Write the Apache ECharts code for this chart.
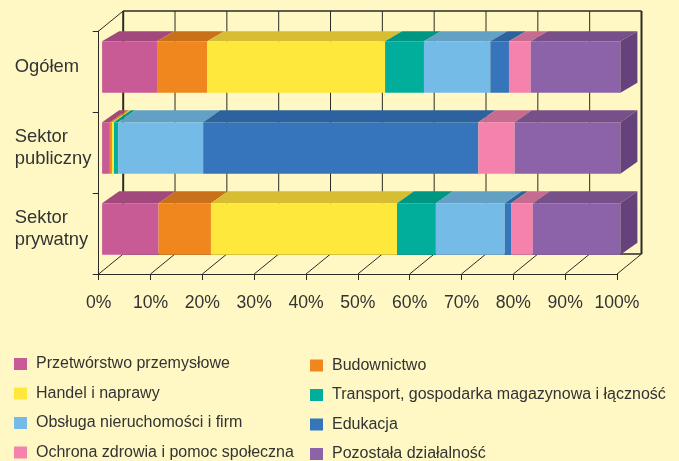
<!DOCTYPE html>
<html>
<head>
<meta charset="utf-8">
<style>
  html, body { margin: 0; padding: 0; background: #fff8c4; }
  #chart { width: 679px; height: 461px; }
</style>
<script src="https://cdn.jsdelivr.net/npm/echarts@6/dist/echarts.min.js"></script>
</head>
<body>
<div id="chart"></div>
<script>
  const categories = ['Ogółem', 'Sektor\npubliczny', 'Sektor\nprywatny'];
  const ticks = [0, 10, 20, 30, 40, 50, 60, 70, 80, 90, 100];

  // udział w %, kolejność: ogółem, publiczny, prywatny
  const przetworstwo = [10.6, 1.5, 10.9];
  const budownictwo = [9.7, 0.4, 10.1];
  const handel = [34.3, 0.4, 35.9];
  const transport = [7.5, 0.8, 7.5];
  const obsluga = [12.8, 16.4, 13.3];
  const edukacja = [3.6, 53.1, 1.2];
  const ochrona = [4.2, 7.0, 4.2];
  const pozostala = [17.3, 20.4, 16.9];

  const sectors = [
    { name: 'Przetwórstwo przemysłowe', values: przetworstwo, front: '#c85a96', top: '#a3487d' },
    { name: 'Budownictwo', values: budownictwo, front: '#f0861e', top: '#c8711a' },
    { name: 'Handel i naprawy', values: handel, front: '#ffe83c', top: '#d6bd32' },
    { name: 'Transport, gospodarka magazynowa i łączność', values: transport, front: '#00ae9b', top: '#009684' },
    { name: 'Obsługa nieruchomości i firm', values: obsluga, front: '#74bbe8', top: '#62a0c4' },
    { name: 'Edukacja', values: edukacja, front: '#3675bc', top: '#2d629e' },
    { name: 'Ochrona zdrowia i pomoc społeczna', values: ochrona, front: '#f482ad', top: '#c76c90' },
    { name: 'Pozostała działalność', values: pozostala, front: '#8c62a8', top: '#785089' }
  ];
  const sideColor = '#65427b';
  const lineColor = '#2b2a25';

  // rzut 3D: przesunięcie tylnej ściany i brył względem przedniej krawędzi osi
  const wall = { dx: 24.5, dy: -20 };
  const bar = { dx: 3.4, dy: -4.5, height: 51.5, depthX: 17, depthY: [10, 12, 12] };

  function renderWall (params, api) {
    const v = api.value(0);
    const band = api.size([0, 1])[1];
    const p = api.coord([v, 0]);
    const yTop = p[1] - band / 2;
    const yBottom = api.coord([v, categories.length - 1])[1] + band / 2;
    const x = p[0];
    const edge = v === ticks[0] || v === ticks[ticks.length - 1];
    const style = { stroke: lineColor, lineWidth: edge ? 2 : 1 };
    const children = [
      { type: 'line', shape: { x1: x + wall.dx, y1: yTop + wall.dy, x2: x + wall.dx, y2: yBottom + wall.dy }, style: style },
      { type: 'line', shape: { x1: x, y1: yBottom, x2: x + wall.dx, y2: yBottom + wall.dy }, style: { stroke: lineColor, lineWidth: 1 } }
    ];
    if (v === ticks[0]) {
      const xEnd = api.coord([ticks[ticks.length - 1], 0])[0];
      children.push(
        { type: 'line', shape: { x1: x, y1: yTop, x2: x + wall.dx, y2: yTop + wall.dy }, style: { stroke: lineColor, lineWidth: 1 } },
        { type: 'line', shape: { x1: x + wall.dx, y1: yTop + wall.dy, x2: xEnd + wall.dx, y2: yTop + wall.dy }, style: { stroke: lineColor, lineWidth: 1.5 } },
        { type: 'line', shape: { x1: x + wall.dx, y1: yBottom + wall.dy, x2: xEnd + wall.dx, y2: yBottom + wall.dy }, style: { stroke: lineColor, lineWidth: 1.5 } }
      );
    }
    return { type: 'group', children: children };
  }

  // etykiety kategorii leżą na wysokości brył, nie środka pasma osi
  function renderCategoryLabel (params, api) {
    const cat = api.value(1);
    const p = api.coord([0, cat]);
    return {
      type: 'text',
      style: {
        x: p[0] - 84,
        y: p[1] + bar.dy,
        text: categories[cat],
        fill: '#333',
        font: '18.4px "Liberation Sans"',
        lineHeight: 21.5,
        align: 'left',
        verticalAlign: 'middle'
      }
    };
  }

  function renderBar (sector, last) {
    return function (params, api) {
      const cat = api.value(1);
      const a = api.coord([api.value(0), cat]);
      const b = api.coord([api.value(2), cat]);
      const x1 = a[0] + bar.dx;
      const x2 = b[0] + bar.dx;
      const y1 = a[1] + bar.dy - bar.height / 2;
      const y2 = y1 + bar.height;
      const dx = bar.depthX;
      const dy = bar.depthY[cat];
      const children = [
        { type: 'polygon', shape: { points: [[x1, y1], [x1 + dx, y1 - dy], [x2 + dx, y1 - dy], [x2, y1]] }, style: { fill: sector.top } },
        { type: 'rect', shape: { x: x1, y: y1, width: x2 - x1, height: bar.height }, style: { fill: sector.front } }
      ];
      if (last) {
        children.push({ type: 'polygon', shape: { points: [[x2, y1], [x2 + dx, y1 - dy], [x2 + dx, y2 - dy], [x2, y2]] }, style: { fill: sideColor } });
      }
      return { type: 'group', children: children };
    };
  }

  const running = categories.map(() => 0);
  const barSeries = sectors.map((sector, i) => ({
    name: sector.name,
    type: 'custom',
    coordinateSystem: 'cartesian2d',
    itemStyle: { color: sector.front },
    encode: { x: [0, 2], y: 1 },
    z: 3,
    silent: true,
    renderItem: renderBar(sector, i === sectors.length - 1),
    data: sector.values.map((v, cat) => {
      const start = running[cat];
      running[cat] = start + v;
      return [start, cat, running[cat]];
    })
  }));

  const legendBase = {
    orient: 'vertical',
    icon: 'rect',
    padding: 0,
    height: 120,
    itemWidth: 13,
    itemHeight: 12,
    itemGap: 11.5,
    itemStyle: { borderWidth: 0 },
    selectedMode: false,
    textStyle: { color: '#333', fontSize: 16, lineHeight: 18, fontFamily: 'Liberation Sans', padding: [0, 0, 0, 4] }
  };

  const option = {
    backgroundColor: '#fff8c4',
    animation: false,
    textStyle: { fontFamily: 'Liberation Sans' },
    grid: { left: 98.7, right: 62, top: 31, bottom: 187, containLabel: false },
    xAxis: {
      type: 'value',
      min: 0,
      max: 100,
      interval: 10,
      splitLine: { show: false },
      axisLine: { show: true, lineStyle: { color: lineColor, width: 1 } },
      axisTick: { show: true, length: 6, lineStyle: { color: lineColor, width: 1 } },
      axisLabel: { color: '#333', fontSize: 17.6, margin: 20, formatter: '{value}%', showMinLabel: true, showMaxLabel: true }
    },
    yAxis: {
      type: 'category',
      inverse: true,
      data: categories,
      axisLine: { show: true, lineStyle: { color: lineColor, width: 1 } },
      axisTick: { show: true, length: 6, lineStyle: { color: lineColor, width: 1 } },
      axisLabel: { show: false }
    },
    legend: [
      Object.assign({}, legendBase, { left: 14, top: 355, data: [sectors[0].name, sectors[2].name, sectors[4].name, sectors[6].name] }),
      Object.assign({}, legendBase, { left: 310, top: 356.5, data: [sectors[1].name, sectors[3].name, sectors[5].name, sectors[7].name] })
    ],
    series: [{
      name: 'siatka',
      type: 'custom',
      coordinateSystem: 'cartesian2d',
      encode: { x: 0 },
      z: 1,
      silent: true,
      renderItem: renderWall,
      data: ticks.map(t => [t])
    }, {
      name: 'etykiety',
      type: 'custom',
      coordinateSystem: 'cartesian2d',
      encode: { x: 0, y: 1 },
      z: 4,
      silent: true,
      clip: false,
      renderItem: renderCategoryLabel,
      data: categories.map((c, i) => [0, i])
    }].concat(barSeries)
  };

  const chart = echarts.init(document.getElementById('chart'));
  chart.setOption(option);
</script>
</body>
</html>
